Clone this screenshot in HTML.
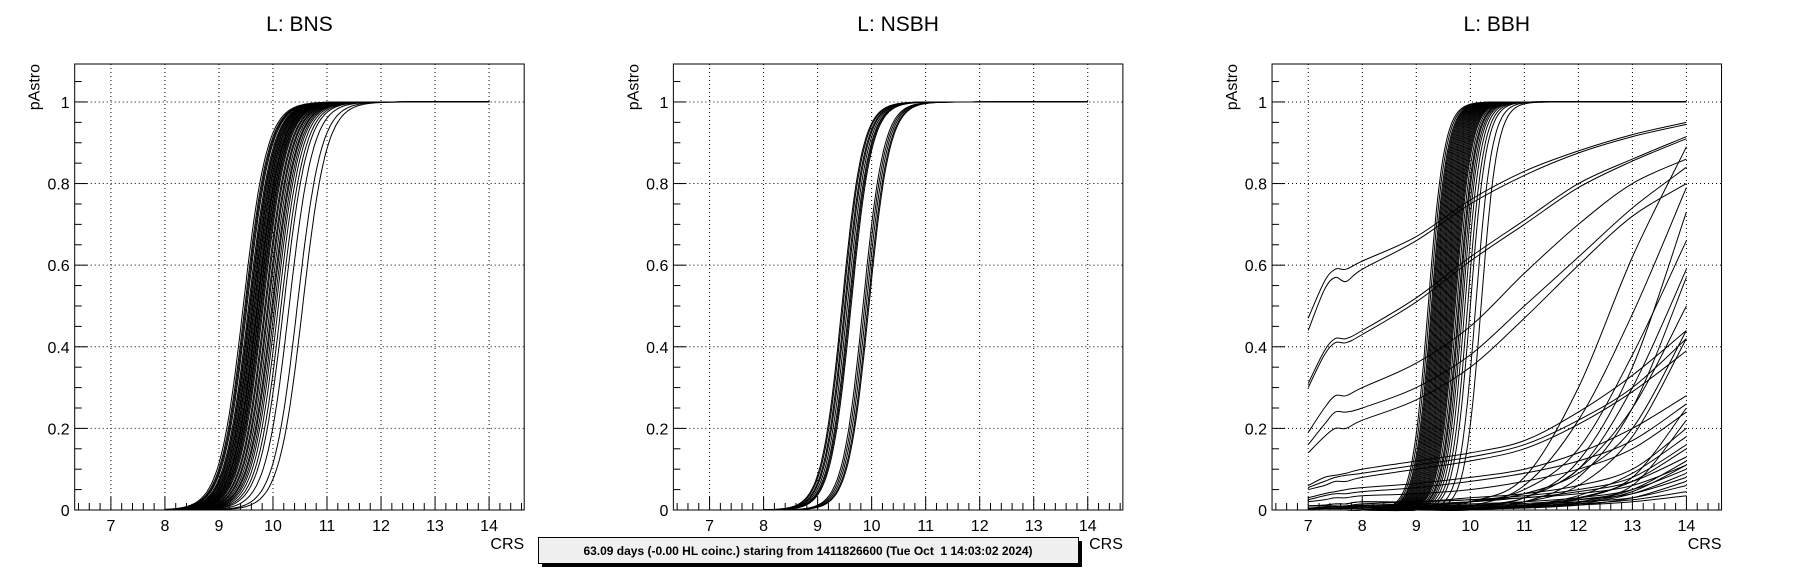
<!DOCTYPE html>
<html><head><meta charset="utf-8"><style>
body{margin:0;background:#fff;}
svg{display:block;font-family:"Liberation Sans",sans-serif;}
</style></head><body>
<svg id="c" width="1796" height="572"></svg>
<script>
const bnsCenters=[9.45,9.48,9.5,9.52,9.55,9.57,9.58,9.6,9.62,9.63,9.65,9.66,9.68,9.7,9.71,9.72,9.74,9.75,9.77,9.78,9.8,9.82,9.85,9.87,9.9,9.92,9.95,9.98,10.0,10.03,10.06,10.1,10.15,10.2,10.3,10.45,10.55];
const bnsWidth=0.22;
const nsbhCenters=[9.45,9.47,9.5,9.52,9.55,9.58,9.6,9.62,9.84,9.87,9.9,9.93,9.95];
const nsbhWidth=0.19;
const bbhCenters=[9.22,9.25,9.28,9.3,9.32,9.34,9.36,9.38,9.4,9.42,9.44,9.46,9.48,9.5,9.52,9.54,9.56,9.58,9.6,9.62,9.64,9.66,9.68,9.7,9.72,9.75,9.78,9.8,9.83,9.86,9.9,9.95,10.0,10.1,10.2];
const bbhWidth=0.15;
const bbhSlowX=[7,7.3,7.5,7.7,8,9,10,11,12,13,14];
const bbhSlow=[
[.47,.56,.59,.59,.61,.67,.76,.83,.88,.92,.95],
[.44,.54,.57,.56,.59,.66,.75,.82,.875,.915,.945],
[.31,.39,.42,.42,.44,.52,.62,.71,.80,.86,.915],
[.30,.38,.41,.41,.43,.51,.61,.70,.79,.855,.91],
[.19,.25,.28,.28,.30,.36,.45,.58,.70,.80,.86],
[.16,.21,.24,.24,.25,.30,.38,.50,.62,.74,.84],
[.14,.18,.20,.20,.22,.27,.35,.47,.60,.72,.80],
[.06,.08,.085,.09,.10,.12,.14,.17,.24,.33,.44],
[.055,.07,.08,.085,.09,.11,.13,.16,.22,.30,.42],
[.05,.06,.07,.07,.08,.10,.12,.15,.21,.29,.39],
[.03,.04,.045,.05,.055,.065,.08,.10,.14,.20,.28],
[.025,.035,.04,.04,.045,.055,.07,.09,.12,.17,.26],
[.02,.025,.03,.03,.035,.04,.05,.07,.10,.15,.24],
[.0,.0,.0,.0,.0,.0,.01,.06,.22,.48,.79],
[.0,.0,.0,.0,.0,.0,.01,.03,.12,.35,.73],
[.0,.0,.0,.0,.0,.01,.02,.04,.10,.30,.59],
[.0,.0,.0,.0,.0,.01,.02,.05,.15,.38,.66],
[.0,.0,.0,.0,.0,.0,.0,.02,.08,.25,.57],
[.0,.0,.0,.0,.0,.0,.02,.08,.30,.62,.89],
[.0,.0,.0,.0,.0,.0,.01,.03,.10,.25,.50],
[.0,.0,.0,.0,.0,.01,.02,.04,.09,.20,.44],
[.0,.0,.0,.0,.0,.0,.01,.02,.06,.18,.42],
[.01,.012,.015,.015,.02,.02,.03,.04,.06,.10,.20],
[.01,.012,.015,.015,.02,.02,.025,.035,.05,.08,.16],
[.01,.01,.01,.01,.015,.02,.025,.03,.045,.07,.13],
[.01,.01,.01,.01,.012,.015,.02,.03,.04,.06,.11],
[.005,.007,.008,.008,.01,.012,.015,.02,.03,.05,.10],
[.005,.005,.006,.006,.008,.01,.012,.016,.025,.04,.08],
[.005,.005,.005,.005,.006,.008,.01,.013,.02,.03,.06],
[.003,.004,.004,.004,.005,.006,.008,.01,.015,.025,.045],
[.002,.003,.003,.003,.004,.005,.006,.008,.012,.02,.035],
[.0,.0,.0,.0,.0,.0,.005,.01,.03,.07,.15],
[.0,.0,.0,.0,.0,.0,.003,.008,.02,.05,.12],
[.0,.0,.0,.0,.0,.0,.004,.01,.025,.06,.22],
[.0,.0,.0,.0,.0,.0,.003,.007,.018,.045,.11],
[.0,.0,.0,.0,.0,.0,.002,.006,.015,.04,.09],
[.0,.0,.0,.0,.0,.0,.002,.005,.012,.03,.07],
[.0,.0,.0,.0,.0,.0,.004,.012,.035,.09,.18],
[.0,.0,.0,.0,.0,.0,.003,.009,.028,.08,.25]
];
const xTicks=[7,8,9,10,11,12,13,14];
const yTicks=[0,0.2,0.4,0.6,0.8,1];
const yTickLabels=["0","0.2","0.4","0.6","0.8","1"];
const titles=["L: BNS","L: NSBH","L: BBH"];

const NS="http://www.w3.org/2000/svg";
const svg=document.getElementById('c');
function mk(t,a,p){const e=document.createElementNS(NS,t);for(const k in a)e.setAttribute(k,a[k]);(p||svg).appendChild(e);return e;}
const XMIN=6.33,XMAX=14.65,YMIN=0,YMAX=1.093;
const FT=64,FB=510,FW=449.5;
function logistic(x,c,w){return 1/(1+Math.exp(-(x-c)/w));}
function smoothPath(pts){let d='M'+pts[0][0].toFixed(1)+','+pts[0][1].toFixed(1);
  for(let i=0;i<pts.length-1;i++){const p0=pts[Math.max(0,i-1)],p1=pts[i],p2=pts[i+1],p3=pts[Math.min(pts.length-1,i+2)];
    const c1=[p1[0]+(p2[0]-p0[0])/6,p1[1]+(p2[1]-p0[1])/6],c2=[p2[0]-(p3[0]-p1[0])/6,p2[1]-(p3[1]-p1[1])/6];
    d+='C'+c1[0].toFixed(1)+','+c1[1].toFixed(1)+' '+c2[0].toFixed(1)+','+c2[1].toFixed(1)+' '+p2[0].toFixed(1)+','+p2[1].toFixed(1);}
  return d;}

for(let p=0;p<3;p++){
  const L=74.7+p*598.67, R=L+FW;
  const sx=v=>L+(v-XMIN)/(XMAX-XMIN)*FW;
  const sy=v=>FB-(v-YMIN)/(YMAX-YMIN)*(FB-FT);
  const g=mk('g',{});
  
  
  const t=mk('text',{x:(L+R)/2,y:31,'text-anchor':'middle','font-size':21},g);
  t.textContent=titles[p];
  
  
  xTicks.forEach(v=>{mk('line',{x1:sx(v),x2:sx(v),y1:FT,y2:FB,stroke:'#000','stroke-width':1,'stroke-dasharray':'1,3'},g);});
  yTicks.forEach(v=>{if(v>0)mk('line',{x1:L,x2:R,y1:sy(v),y2:sy(v),stroke:'#000','stroke-width':1,'stroke-dasharray':'1,3'},g);});
  const cg=mk('g',{fill:'none',stroke:'#000','stroke-width':1},g);
  
  
  const drawLog=(cs,w,x0)=>cs.forEach(c=>{let d='';for(let x=x0;x<=14.0001;x+=0.02){d+=(d?'L':'M')+sx(x).toFixed(1)+','+sy(logistic(x,c,w)).toFixed(1);}
    const pth=mk('path',{d:d},cg);
    
    });
  if(p===0)drawLog(bnsCenters,bnsWidth,8);
  if(p===1)drawLog(nsbhCenters,nsbhWidth,8);
  if(p===2){drawLog(bbhCenters,bbhWidth,7);
    bbhSlow.forEach(arr=>{const d=smoothPath(arr.map((v,i)=>[sx(bbhSlowX[i]),sy(v)]));
      const pth=mk('path',{d:d},cg);
      
      });}
  const fr=mk('rect',{x:L,y:FT,width:FW,height:FB-FT,fill:'none',stroke:'#000','stroke-width':1},g);
  
  
  for(let v=6.4;v<=14.61;v+=0.2){const major=Math.abs(v-Math.round(v))<0.01;
    mk('line',{x1:sx(v),x2:sx(v),y1:FB,y2:FB-(major?13:7),stroke:'#000'},g);}
  xTicks.forEach(v=>{const tx=mk('text',{x:sx(v),y:FB+21,'text-anchor':'middle','font-size':16},g);tx.textContent=v;
    
    });
  for(let v=0;v<=1.0901;v+=0.05){const major=Math.abs(v*5-Math.round(v*5))<0.01;
    mk('line',{x1:L,x2:L+(major?13:7),y1:sy(v),y2:sy(v),stroke:'#000'},g);}
  yTicks.forEach((v,i)=>{const tx=mk('text',{x:L-5,y:sy(v)+6,'text-anchor':'end','font-size':16},g);tx.textContent=yTickLabels[i];
    
    });
  const xt=mk('text',{x:R,y:549,'text-anchor':'end','font-size':16},g);xt.textContent='CRS';
  
  
  const yt=mk('text',{x:0,y:0,'text-anchor':'end','font-size':16,transform:`translate(${L-35},${FT}) rotate(-90)`},g);yt.textContent='pAstro';
  
  
}
const bg=mk('g',{});


mk('rect',{x:542,y:541,width:540,height:26,fill:'#000'},bg);
mk('rect',{x:538.5,y:537.5,width:540,height:26,fill:'#f0f0f0',stroke:'#000','stroke-width':1},bg);
const it=mk('text',{x:808,y:555,'text-anchor':'middle','font-size':12,'font-weight':'bold'},bg);
it.textContent='63.09 days (-0.00 HL coinc.) staring from 1411826600 (Tue Oct  1 14:03:02 2024)';
it.setAttribute('style','white-space:pre');
</script>
</body></html>
